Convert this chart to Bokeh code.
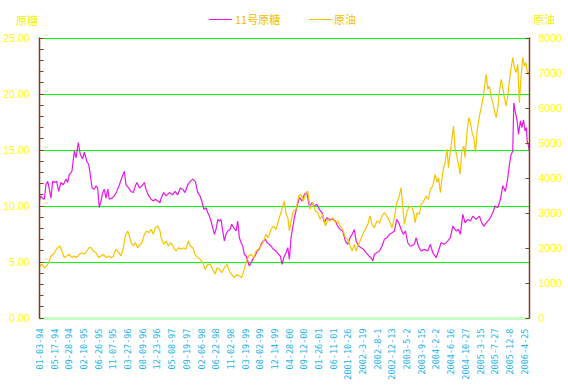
import math
from bokeh.plotting import figure
from bokeh.layouts import column
from bokeh.models import (Range1d, LinearAxis, SingleIntervalTicker, FixedTicker,
                          NumeralTickFormatter, Div)
from bokeh.embed import file_html
from bokeh.resources import INLINE

# category (date) labels of the x axis
date_labels = [
    "01-03-94", "05-17-94", "09-28-94", "02-10-95", "06-26-95", "11-07-95",
    "03-27-96", "08-09-96", "12-23-96", "05-08-97", "09-19-97", "02-06-98",
    "06-22-98", "11-02-98", "03-19-99", "08-02-99", "12-14-99", "04-28-00",
    "09-12-00", "01-26-01", "06-11-01", "2001-10-26", "2002-3-19", "2002-8-1",
    "2002-12-13", "2003-5-2", "2003-9-15", "2004-2-2", "2004-6-16",
    "2004-10-27", "2005-3-15", "2005-7-27", "2005-12-8", "2006-4-25",
]

series_names = ["11号原糖", "原油"]
left_title = "原糖"
right_title = "原油"

# 11号原糖 (left axis) : position along the category axis, value
sugar_t = [
    0.00, 0.08, 0.17, 0.33, 0.44, 0.56, 0.67, 0.78, 0.90, 1.01, 1.17, 1.31, 1.46, 1.62,
    1.81, 1.92, 2.03, 2.21, 2.37, 2.49, 2.64, 2.78, 2.94, 3.05, 3.22, 3.35, 3.46, 3.58,
    3.73, 3.85, 3.96, 4.07, 4.19, 4.31, 4.41, 4.53, 4.65, 4.75, 4.94, 5.10, 5.26, 5.44,
    5.60, 5.78, 5.89, 6.08, 6.23, 6.39, 6.53, 6.64, 6.80, 6.98, 7.14, 7.25, 7.44, 7.60,
    7.75, 7.89, 8.05, 8.21, 8.28, 8.46, 8.62, 8.84, 9.07, 9.23, 9.41, 9.59, 9.75, 9.91,
    10.10, 10.27, 10.44, 10.61, 10.78, 10.93, 11.05, 11.19, 11.34, 11.46, 11.57, 11.68,
    11.80, 11.91, 12.02, 12.14, 12.25, 12.36, 12.48, 12.59, 12.70, 12.82, 12.98, 13.09,
    13.23, 13.39, 13.50, 13.61, 13.73, 13.84, 13.95, 14.07, 14.18, 14.29, 14.41, 14.52,
    14.68, 14.82, 14.97, 15.09, 15.25, 15.38, 15.50, 15.65, 15.77, 15.93, 16.11, 16.27,
    16.40, 16.52, 16.63, 16.79, 16.91, 17.02, 17.13, 17.36, 17.52, 17.70, 17.88, 18.04,
    18.20, 18.38, 18.56, 18.72, 18.88, 19.06, 19.24, 19.40, 19.56, 19.74, 19.97, 20.15,
    20.31, 20.47, 20.65, 20.83, 20.99, 21.15, 21.29, 21.44, 21.56, 21.74, 21.90, 22.06,
    22.24, 22.43, 22.58, 22.70, 22.81, 22.97, 23.15, 23.33, 23.49, 23.67, 23.83, 24.01,
    24.17, 24.33, 24.47, 24.63, 24.78, 24.92, 25.08, 25.24, 25.31, 25.53, 25.65, 25.80,
    25.99, 26.21, 26.44, 26.62, 26.78, 27.01, 27.17, 27.35, 27.58, 27.81, 27.98, 28.15,
    28.37, 28.53, 28.66, 28.83, 28.98, 29.17, 29.35, 29.51, 29.74, 29.96, 30.12, 30.26,
    30.42, 30.64, 30.87, 31.03, 31.21, 31.39, 31.55, 31.73, 31.89, 32.00, 32.12, 32.23,
    32.30, 32.39, 32.53, 32.62, 32.75, 32.85, 32.96, 33.07, 33.16, 33.21, 33.30, 33.37,
]
sugar = [
    10.5, 10.9, 10.74, 10.6, 11.9, 12.2, 11.5, 10.7, 12.2, 12.1, 12.2, 11.3, 12.1, 11.9,
    12.4, 12.1, 12.8, 13.1, 14.9, 14.3, 15.65, 14.6, 14.2, 14.8, 14.0, 13.7, 12.8, 11.6,
    11.5, 11.8, 11.6, 9.85, 10.45, 11.2, 11.5, 10.7, 11.5, 10.6, 10.7, 10.9, 11.3, 11.9,
    12.5, 13.1, 11.9, 11.6, 11.3, 11.2, 11.8, 12.1, 11.6, 11.8, 12.1, 11.5, 10.9, 10.6,
    10.45, 10.6, 10.45, 10.3, 10.7, 11.2, 10.9, 11.2, 11.0, 11.3, 11.0, 11.6, 11.5, 11.2,
    11.9, 12.2, 12.4, 12.2, 11.2, 10.9, 10.45, 9.7, 9.85, 9.4, 9.1, 8.66,
    8.06, 7.47, 7.9, 8.8, 8.66, 8.8, 7.77, 6.88, 7.47, 7.77, 7.9, 8.37,
    8.06, 7.77, 8.66, 7.17, 6.72, 6.43, 5.69, 5.54, 5.09, 4.64, 4.94, 5.24,
    5.54, 5.98, 6.13, 6.58, 6.88, 7.03, 6.72, 6.58, 6.43, 6.13, 5.98, 5.69,
    5.54, 4.79, 5.38, 5.83, 6.28, 5.24, 7.17, 8.95, 9.85, 10.74, 10.45, 11.04,
    11.19, 10.0, 10.3, 10.0, 10.15, 9.7, 9.4, 8.5, 8.95, 8.8, 8.8, 8.66,
    8.2, 7.9, 7.77, 6.88, 6.58, 7.17, 7.47, 7.9, 6.88, 6.43, 6.28, 6.13,
    5.83, 5.54, 5.38, 5.09, 5.69, 5.83, 5.98, 6.43, 7.03, 7.17, 7.47, 7.62,
    7.77, 8.8, 8.5, 7.9, 7.47, 7.77, 6.72, 6.43, 6.43, 6.58, 7.17, 6.43,
    5.98, 6.13, 5.98, 6.58, 5.83, 5.38, 5.98, 6.72, 6.58, 6.88, 7.17, 8.2,
    7.77, 7.92, 7.47, 9.26, 8.5, 8.8, 8.66, 9.1, 8.8, 9.1, 8.5, 8.2,
    8.5, 8.8, 9.4, 10.0, 9.85, 10.6, 11.8, 11.3, 12.5, 13.7, 14.6, 14.9,
    19.2, 18.5, 17.6, 16.4, 17.6, 17.0, 17.7, 16.7, 17.0, 15.8, 15.4, 14.9,
]

# 原油 (right axis) : position along the category axis, value
oil_t = [
    0.00, 0.17, 0.33, 0.49, 0.63, 0.78, 0.94, 1.08, 1.24, 1.40, 1.53, 1.69, 1.85, 2.03,
    2.21, 2.37, 2.53, 2.71, 2.90, 3.05, 3.22, 3.39, 3.51, 3.66, 3.85, 4.03, 4.19, 4.35,
    4.53, 4.71, 4.87, 5.03, 5.21, 5.40, 5.55, 5.71, 5.84, 6.01, 6.12, 6.23, 6.39, 6.53,
    6.69, 6.85, 6.98, 7.14, 7.30, 7.44, 7.60, 7.75, 7.89, 8.05, 8.21, 8.28, 8.46, 8.62,
    8.77, 8.96, 9.14, 9.30, 9.46, 9.64, 9.82, 9.98, 10.14, 10.27, 10.44, 10.59, 10.78,
    10.95, 11.12, 11.27, 11.46, 11.63, 11.80, 11.96, 12.09, 12.25, 12.41, 12.59, 12.77,
    12.93, 13.09, 13.27, 13.45, 13.61, 13.77, 13.91, 14.07, 14.22, 14.41, 14.59, 14.75,
    14.90, 15.09, 15.27, 15.43, 15.59, 15.77, 15.93, 16.11, 16.27, 16.40, 16.57, 16.68,
    16.79, 16.91, 17.02, 17.13, 17.29, 17.47, 17.66, 17.81, 17.97, 18.15, 18.27, 18.43,
    18.61, 18.79, 18.95, 19.11, 19.29, 19.47, 19.63, 19.79, 19.97, 20.15, 20.31, 20.47,
    20.65, 20.83, 20.99, 21.15, 21.29, 21.44, 21.56, 21.68, 21.83, 22.02, 22.19, 22.36,
    22.51, 22.65, 22.81, 22.97, 23.15, 23.33, 23.49, 23.65, 23.83, 24.01, 24.17, 24.33,
    24.47, 24.63, 24.74, 24.85, 25.03, 25.15, 25.31, 25.49, 25.58, 25.72, 25.87, 25.99,
    26.17, 26.33, 26.49, 26.62, 26.78, 26.94, 27.08, 27.17, 27.30, 27.47, 27.62, 27.76,
    27.85, 27.98, 28.10, 28.19, 28.30, 28.44, 28.53, 28.64, 28.76, 28.90, 28.98, 29.12,
    29.24, 29.35, 29.46, 29.58, 29.69, 29.80, 29.96, 30.08, 30.19, 30.30, 30.42, 30.53,
    30.64, 30.76, 30.87, 30.98, 31.10, 31.21, 31.32, 31.44, 31.55, 31.66, 31.78, 31.89,
    32.00, 32.12, 32.23, 32.34, 32.45, 32.57, 32.68, 32.79, 32.91, 33.02, 33.12, 33.25,
    33.37,
]
oil = [
    1486, 1533, 1438, 1486, 1581, 1771, 1819, 1914, 2009, 2057, 1914, 1723, 1771, 1819,
    1723, 1771, 1723, 1819, 1866, 1819, 1914, 2009, 2009, 1914, 1866, 1723, 1771, 1819,
    1723, 1771, 1723, 1771, 1962, 1866, 1771, 2009, 2343, 2486, 2343, 2152, 2057, 2152,
    2009, 2105, 2152, 2391, 2486, 2438, 2534, 2391, 2581, 2629, 2486, 2295, 2105, 2200,
    2057, 2152, 2009, 1914, 2009, 1962, 2009, 1962, 2200, 2057, 2009, 1819, 1723,
    1676, 1581, 1390, 1533, 1533, 1390, 1248, 1438, 1390, 1295, 1438, 1533,
    1343, 1248, 1152, 1248, 1200, 1152, 1343, 1581, 1771, 1819, 1723, 1914,
    1962, 2057, 2200, 2391, 2295, 2534, 2629, 2534, 2771, 2962, 3200, 3343,
    2962, 2867, 2486, 2771, 3057, 3105, 3486, 3533, 3343, 3581, 3629, 3105,
    3295, 3057, 3009, 2819, 2962, 2629, 2819, 2771, 2867, 2724, 2771, 2629,
    2534, 2295, 2248, 2057, 1914, 2105, 1914, 2057, 2200, 2391, 2534, 2677,
    2914, 2677, 2581, 2771, 2724, 2914, 3009, 2914, 2771, 2581, 2867, 3295,
    3438, 3724, 3152, 2677, 3057, 3152, 3200, 3009, 2724, 3009, 2962, 3248,
    3343, 3486, 3391, 3676, 3771, 4105, 3867, 4009, 3581, 4200, 4438, 4819,
    4295, 4771, 5152, 5486, 4867, 4581, 4391, 4105, 4771, 4914, 4581, 5343,
    5724, 5581, 5295, 5152, 4724, 5343, 5771, 6009, 6248, 6581, 6962, 6533,
    6629, 6295, 6152, 5914, 5724, 6009, 6486, 6819, 6581, 6295, 6057, 6343,
    6771, 7152, 7438, 7152, 7010, 7248, 6152, 6867, 7438, 7200, 7295, 6962,
    7057,
]

SUGAR_COLOR = "#E619E6"
OIL_COLOR = "#F8C400"
AXIS_BROWN = "#7F3F1F"
LABEL_YELLOW = "#FFFF00"
XLABEL_BLUE = "#1EB4EC"
LEGEND_GOLD = "#F0C000"
TITLE_YELLOW = "#F2F200"

HEADER_H = 30
FRAME_H = 281
PX_PER_SUGAR = 280 / 25.0      # pixels per unit on the left axis
PX_PER_OIL = 280 / 8000.0      # pixels per unit on the right axis
HALF = 0.5                     # half-pixel shift so 1px grid lines are crisp

# header: axis titles and legend (HTML text above the plot canvas)
font = "font-family:'Noto Sans CJK SC';font-size:11px;line-height:14px;white-space:nowrap;"
header_html = (
    f'<div style="position:relative;width:562px;height:{HEADER_H}px;{font}">'
    f'<span style="position:absolute;left:16px;top:13px;color:{TITLE_YELLOW}">{left_title}</span>'
    f'<span style="position:absolute;left:209px;top:19px;width:23px;height:0;'
    f'border-top:1px solid {SUGAR_COLOR}"></span>'
    f'<span style="position:absolute;left:235px;top:12px;color:{LEGEND_GOLD}">{series_names[0]}</span>'
    f'<span style="position:absolute;left:309px;top:19px;width:23px;height:0;'
    f'border-top:1px solid {OIL_COLOR}"></span>'
    f'<span style="position:absolute;left:334px;top:12px;color:{LEGEND_GOLD}">{series_names[1]}</span>'
    f'<span style="position:absolute;left:533px;top:12px;color:{TITLE_YELLOW}">{right_title}</span>'
    '</div>'
)
header = Div(text=header_html, width=562, height=HEADER_H, margin=0)

sh = HALF / PX_PER_SUGAR
oh = HALF / PX_PER_OIL
p = figure(frame_width=490, frame_height=FRAME_H, output_backend="svg", toolbar_location=None,
           x_range=Range1d(0, 33.37), y_range=Range1d(-sh, 25 + sh),
           min_border_left=38, min_border_right=34, min_border_top=37 - HEADER_H,
           min_border_bottom=59,
           background_fill_color="white", border_fill_color="white",
           outline_line_color=None, margin=0)

p.extra_y_ranges = {"oil": Range1d(-oh, 8000 + oh)}

# x axis (categories)
xa = p.xaxis[0]
xa.ticker = FixedTicker(ticks=list(range(len(date_labels))))
xa.major_label_overrides = {i: s for i, s in enumerate(date_labels)}
xa.major_label_orientation = math.pi / 2
xa.major_label_text_color = XLABEL_BLUE
xa.major_label_text_font = "DejaVu Sans Mono"
xa.major_label_text_font_size = "8.5px"
xa.major_label_standoff = 4
xa.axis_line_color = "#C8FFC8"
xa.axis_line_width = 3
xa.major_tick_line_color = None
xa.minor_tick_line_color = None
p.xgrid.grid_line_color = None

# left axis (原糖)
ya = p.yaxis[0]
ya.ticker = SingleIntervalTicker(interval=5, num_minor_ticks=5)
ya.formatter = NumeralTickFormatter(format="0.00")
ya.major_label_text_color = LABEL_YELLOW
ya.major_label_text_font = "Liberation Sans"
ya.major_label_text_font_size = "10.5px"
ya.major_label_standoff = 10
ya.axis_line_color = AXIS_BROWN
ya.axis_line_width = 1.5
ya.major_tick_line_color = AXIS_BROWN
ya.major_tick_in = 4
ya.major_tick_out = 0
ya.minor_tick_line_color = AXIS_BROWN
ya.minor_tick_in = 4
ya.minor_tick_out = 0
p.ygrid.ticker = SingleIntervalTicker(interval=5)
p.ygrid.grid_line_color = "#00FF00"
p.ygrid.grid_line_width = 1
p.ygrid.grid_line_alpha = 1

# right axis (原油)
ra = LinearAxis(y_range_name="oil", ticker=SingleIntervalTicker(interval=1000, num_minor_ticks=0))
ra.major_label_text_color = LABEL_YELLOW
ra.major_label_text_font = "Liberation Sans"
ra.major_label_text_font_size = "10.5px"
ra.major_label_standoff = 9
ra.axis_line_color = AXIS_BROWN
ra.axis_line_width = 1.5
ra.major_tick_line_color = AXIS_BROWN
ra.major_tick_in = 4
ra.major_tick_out = 0
ra.minor_tick_line_color = None
p.add_layout(ra, "right")

p.line(sugar_t, sugar, line_color=SUGAR_COLOR, line_width=1.2)
p.line(oil_t, oil, line_color=OIL_COLOR, line_width=1.2, y_range_name="oil")

layout = column(header, p, spacing=0, margin=0)

open("out.html", "w").write(file_html(layout, INLINE))
